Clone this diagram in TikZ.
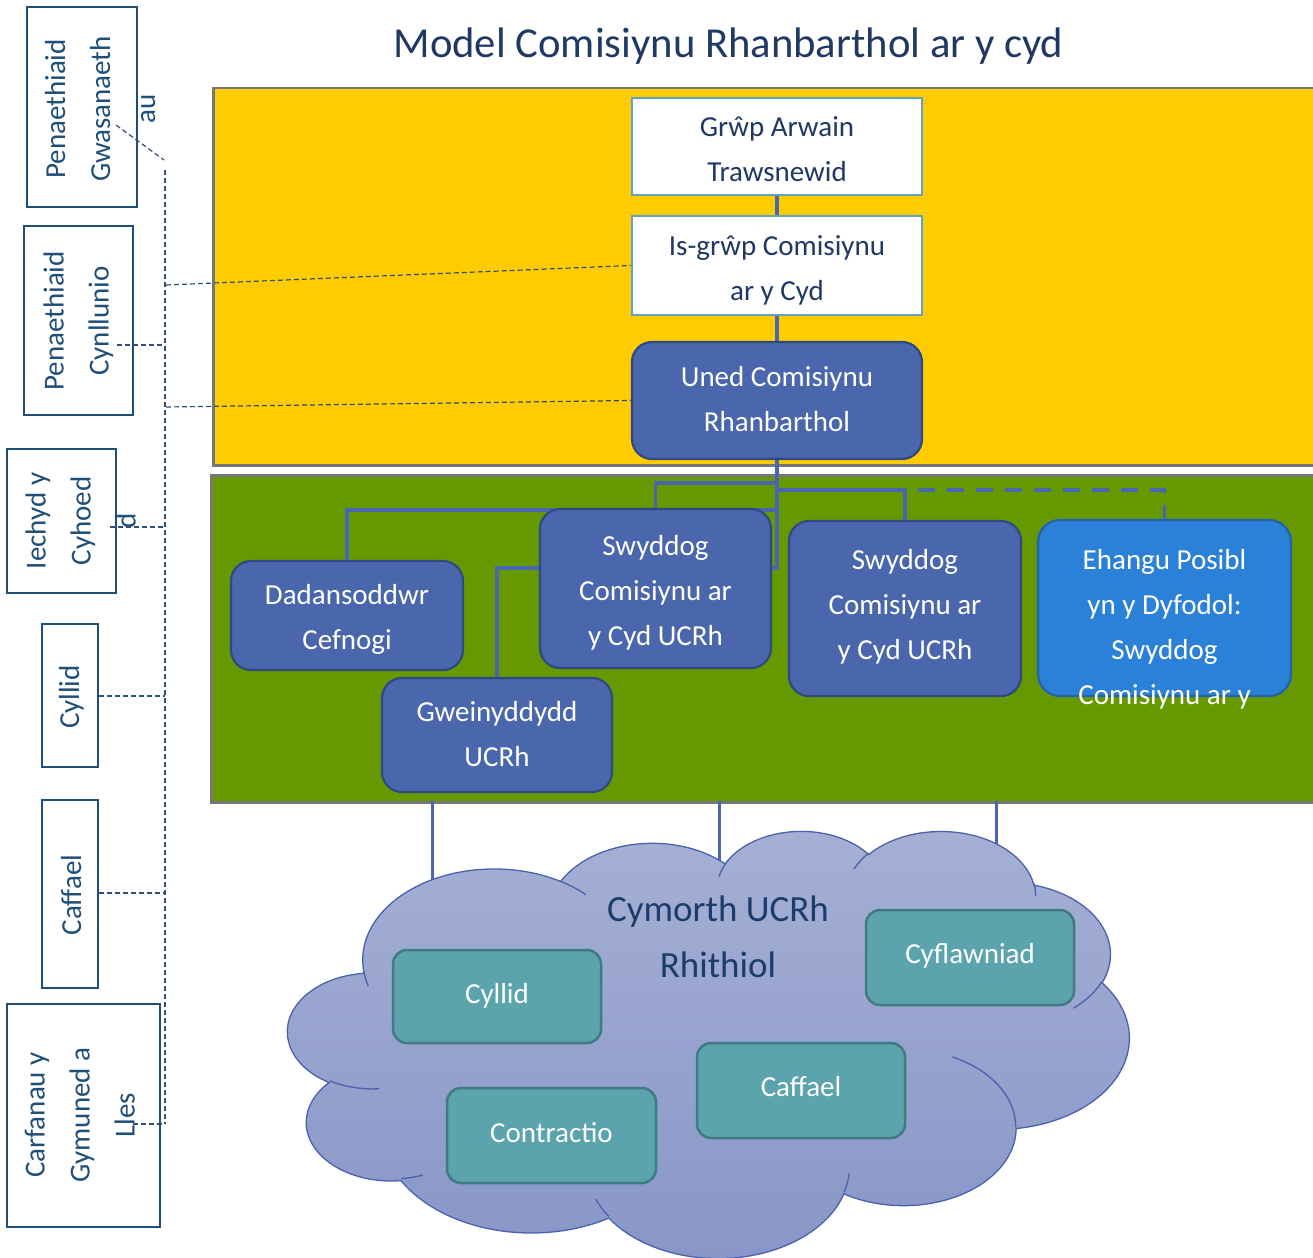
\documentclass[tikz,border=0pt]{standalone}
\usepackage{fontspec}
\setmainfont{Carlito}
\definecolor{yel}{HTML}{FFCC00}
\definecolor{grn}{HTML}{669900}
\definecolor{pgray}{HTML}{767676}
\definecolor{bfill}{HTML}{4A66AC}
\definecolor{bline}{HTML}{2F4A82}
\definecolor{efill}{HTML}{2B80D8}
\definecolor{eline}{HTML}{2463AC}
\definecolor{wline}{HTML}{62A4BE}
\definecolor{connc}{HTML}{4A66B0}
\definecolor{navy}{HTML}{1F3864}
\definecolor{ltxt}{HTML}{1F4E79}
\definecolor{tfill}{HTML}{5BA3AD}
\definecolor{tline}{HTML}{3F7B80}
\definecolor{cline}{HTML}{4A62AE}
\definecolor{ctop}{HTML}{A6B0D4}
\definecolor{cbot}{HTML}{8796C8}
\definecolor{dashc}{HTML}{2F4F78}
\definecolor{ctitle}{HTML}{1C3D6B}
\newcommand\CloudAng[5]{%
  \pgfmathsetmacro\cloudtmpS{atan2((#2)*sin(#4),(#3)*cos(#4))}%
  \pgfmathsetmacro\cloudtmpE{atan2((#2)*sin((#4)+(#5)),(#3)*cos((#4)+(#5)))}%
  \pgfmathsetmacro\cloudtmpD{mod(\cloudtmpE-\cloudtmpS+720,360)}%
  \expandafter\xdef\csname cl#1s\endcsname{\cloudtmpS}%
  \expandafter\xdef\csname cl#1d\endcsname{\cloudtmpD}%
}
\tikzset{
  panel/.style={draw=pgray, line width=2.5pt, inner sep=0pt, anchor=north west},
  wbox/.style={draw=wline, fill=white, line width=2.5pt, inner sep=0pt},
  bbox/.style={draw=bline, fill=bfill, line width=2.2pt, rounded corners=20pt, inner sep=0pt},
  ebox/.style={draw=eline, fill=efill, line width=2.2pt, rounded corners=22pt, inner sep=0pt},
  tbox/.style={draw=tline, fill=tfill, line width=2.5pt, rounded corners=14pt, inner sep=0pt},
  lbox/.style={draw=ltxt, line width=2.2pt, inner sep=0pt},
  link/.style={draw=connc, line width=3.5pt},
  dlink/.style={draw=dashc, line width=1.2pt, dash pattern=on 5pt off 3pt},
  txt/.style={font=\fontsize{29}{45}\selectfont, text width=400pt, align=flush center, anchor=base, inner sep=0pt,
    execute at begin node={\spaceskip=0pt\xspaceskip=0pt}},
  wtxt/.style={txt, text=white},
  ntxt/.style={txt, text=navy},
  ltx/.style={txt, text=ltxt, rotate=90},
  cloudedge/.style={draw=cline, line width=1.3pt}
}
\begin{document}
\begin{tikzpicture}[x=1pt,y=-1pt]
\useasboundingbox (0,0) rectangle (1313,1257);
\CloudAng{A}{67.53}{91.90}{-190.4875}{123.7805}
\CloudAng{B}{53.33}{72.67}{-144.1024}{89.9452}
\CloudAng{C}{43.65}{59.45}{-145.8079}{99.7230}
\CloudAng{D}{48.57}{65.95}{-130.9861}{117.2417}
\CloudAng{E}{53.33}{72.73}{-78.7089}{109.0269}
\CloudAng{F}{67.75}{92.20}{-46.2673}{130.2690}
\CloudAng{G}{57.85}{78.67}{0.6250}{114.0333}
\CloudAng{H}{67.52}{92.15}{22.4516}{115.1726}
\CloudAng{I}{77.20}{105.43}{66.2426}{75.7110}
\CloudAng{J}{43.60}{59.18}{-274.9421}{146.7356}
\CloudAng{K}{43.45}{59.45}{-246.8285}{152.5189}
\CloudAng{a}{43.45}{59.45}{86.7420}{26.4295}
\CloudAng{b}{43.60}{59.18}{73.6105}{11.4475}
\CloudAng{c}{67.52}{92.15}{137.6242}{14.0811}
\CloudAng{d}{67.52}{92.15}{6.4533}{15.9984}
\CloudAng{e}{57.85}{78.67}{-70.2924}{70.9174}
\CloudAng{f}{53.33}{72.73}{30.3180}{27.7515}
\CloudAng{g}{48.57}{65.95}{-13.7443}{14.8589}
\CloudAng{h}{48.57}{65.95}{-149.1815}{18.1954}
\CloudAng{i}{43.65}{59.45}{-163.4943}{17.6864}
\CloudAng{j}{67.53}{91.90}{-66.7070}{12.3194}
\CloudAng{k}{67.53}{91.90}{157.6544}{11.8582}

% title
\node[font=\fontsize{42.7}{50}\selectfont, text=navy, anchor=base, inner sep=0pt] (title) at (728.5,58) {Model Comisiynu Rhanbarthol ar y cyd};

% panels
\node[panel, fill=yel, minimum width=1108, minimum height=377] (yellow) at (212,87) {};
\node[panel, fill=grn, minimum width=1110, minimum height=327] (green) at (210,474) {};

\coordinate (grwpC) at (777,146.5);
\coordinate (isgrwpC) at (777,265.5);
\coordinate (unedC) at (777,400.5);

\node[wbox, minimum width=290, minimum height=97] (grwp) at (grwpC) {};
\node[wbox, minimum width=290, minimum height=99] (isgrwp) at (isgrwpC) {};
\draw[link] (grwp.south) -- (isgrwp.north);
\coordinate (j1) at (777,568);
\coordinate (j2) at (777,483);
\coordinate (j3) at (777,510);
\coordinate (j4) at (777,490);
\coordinate (j5) at (905,490);
\coordinate (gwtop) at (497,678);
\coordinate (s1top) at (655.5,509);
\coordinate (dtop) at (347,561);
\coordinate (s2top) at (905,521);
\coordinate (etop) at (1164.5,520);
\draw[link] (isgrwp.south) -- (unedC);
\draw[link] (unedC) -- (j1) -| (gwtop);
\draw[link] (j2) -| (s1top);
\draw[link] (j3) -| (dtop);
\draw[link] (j4) -| (s2top);
\draw[link, dash pattern=on 17pt off 12pt, dash phase=16pt] (j5) -| (etop);

\node[bbox, minimum width=290, minimum height=117] (uned) at (unedC) {};
\node[bbox, minimum width=232, minimum height=109] (dadan) at (347,615.5) {};
\node[bbox, minimum width=231, minimum height=159] (swy1) at (655.5,588.5) {};
\node[bbox, minimum width=232, minimum height=175] (swy2) at (905,608.5) {};
\node[ebox, minimum width=253, minimum height=176] (ehangu) at (1164.5,608) {};
\node[bbox, minimum width=230, minimum height=114] (gwein) at (497,735) {};

\node[ntxt] (grwpT) at (777,137) {Grŵp Arwain\\Trawsnewid};
\node[ntxt] (isgrwpT) at (777,255) {Is-grŵp Comisiynu\\ar y Cyd};
\node[wtxt] (unedT) at (777,386) {Uned Comisiynu\\Rhanbarthol};
\node[wtxt] (dadanT) at (347,604) {Dadansoddwr\\Cefnogi};
\node[wtxt] (swy1T) at (655.5,555) {Swyddog\\Comisiynu ar\\y Cyd UCRh};
\node[wtxt] (swy2T) at (905,569) {Swyddog\\Comisiynu ar\\y Cyd UCRh};
\node[wtxt] (ehanguT) at (1164.5,569) {Ehangu Posibl\\yn y Dyfodol:\\Swyddog\\Comisiynu ar y};
\node[wtxt] (gweinT) at (497,721) {Gweinyddydd\\UCRh};

% links from green panel into cloud
\coordinate (g1) at (432,801); \coordinate (g1e) at (432,900);
\coordinate (g2) at (719,801); \coordinate (g2e) at (719,900);
\coordinate (g3) at (996,801); \coordinate (g3e) at (996,900);
\draw[connc, line width=3pt] (g1) -- (g1e) (g2) -- (g2e) (g3) -- (g3e);

% cloud
\begin{scope}[shift={(288,830)}, x=1.946759pt, y=-0.988426pt]
  \path[top color=ctop, bottom color=cbot, draw=cline, line width=1.3pt]
    (39.00,143.70)
    arc[start angle=\clAs, delta angle=\clAd, x radius=67.53, y radius=91.90]
    arc[start angle=\clBs, delta angle=\clBd, x radius=53.33, y radius=72.67]
    arc[start angle=\clCs, delta angle=\clCd, x radius=43.65, y radius=59.45]
    arc[start angle=\clDs, delta angle=\clDd, x radius=48.57, y radius=65.95]
    arc[start angle=\clEs, delta angle=\clEd, x radius=53.33, y radius=72.73]
    arc[start angle=\clFs, delta angle=\clFd, x radius=67.75, y radius=92.20]
    arc[start angle=\clGs, delta angle=\clGd, x radius=57.85, y radius=78.67]
    arc[start angle=\clHs, delta angle=\clHd, x radius=67.52, y radius=92.15]
    arc[start angle=\clIs, delta angle=\clId, x radius=77.20, y radius=105.43]
    arc[start angle=\clJs, delta angle=\clJd, x radius=43.60, y radius=59.18]
    arc[start angle=\clKs, delta angle=\clKd, x radius=43.45, y radius=59.45]
    -- cycle;
  \draw[cloudedge] (46.93,261.77) arc[start angle=\clas, delta angle=\clad, x radius=43.45, y radius=59.45];
  \draw[cloudedge] (69.28,348.99) arc[start angle=\clbs, delta angle=\clbd, x radius=43.60, y radius=59.18];
  \draw[cloudedge] (164.78,390.90) arc[start angle=\clcs, delta angle=\clcd, x radius=67.52, y radius=92.15];
  \draw[cloudedge] (288.27,347.51) arc[start angle=\clds, delta angle=\cldd, x radius=67.52, y radius=92.15];
  \draw[cloudedge] (341.29,229.54) arc[start angle=\cles, delta angle=\cled, x radius=57.85, y radius=78.67];
  \draw[cloudedge] (417.98,153.54) arc[start angle=\clfs, delta angle=\clfd, x radius=53.33, y radius=72.73];
  \draw[cloudedge] (383.24,54.26) arc[start angle=\clgs, delta angle=\clgd, x radius=48.57, y radius=65.95];
  \draw[cloudedge] (290.78,39.52) arc[start angle=\clhs, delta angle=\clhd, x radius=48.57, y radius=65.95];
  \draw[cloudedge] (221.41,47.20) arc[start angle=\clis, delta angle=\clid, x radius=43.65, y radius=59.45];
  \draw[cloudedge] (140.00,51.92) arc[start angle=\cljs, delta angle=\cljd, x radius=67.53, y radius=91.90];
  \draw[cloudedge] (41.27,157.89) arc[start angle=\clks, delta angle=\clkd, x radius=67.53, y radius=91.90];
\end{scope}

\node[txt, font=\fontsize{37}{56}\selectfont, text=ctitle] (ctitleT) at (718,921) {Cymorth UCRh\\Rhithiol};

\node[tbox, minimum width=208, minimum height=93] (cyl) at (497,996.5) {};
\node[tbox, minimum width=209, minimum height=95] (contr) at (551.5,1135.5) {};
\node[tbox, minimum width=208, minimum height=95] (caff) at (801,1090.5) {};
\node[tbox, minimum width=208, minimum height=95] (cyfl) at (970,957.5) {};
\node[wtxt] (cylT) at (497,1003) {Cyllid};
\node[wtxt] (contrT) at (551.5,1142) {Contractio};
\node[wtxt] (caffT) at (801,1096) {Caffael};
\node[wtxt] (cyflT) at (970,963) {Cyflawniad};

% left boxes
\node[lbox, minimum width=110, minimum height=200] (lb1) at (82,107) {};
\node[lbox, minimum width=109, minimum height=189] (lb2) at (78.5,320.5) {};
\node[lbox, minimum width=109, minimum height=144] (lb3) at (61.5,521) {};
\node[lbox, minimum width=56, minimum height=143] (lb4) at (70,695.5) {};
\node[lbox, minimum width=56, minimum height=188] (lb5) at (70,894) {};
\node[lbox, minimum width=153, minimum height=223] (lb6) at (83.5,1115.5) {};
\node[ltx] (lb1T) at (65,109) {Penaethiaid\\Gwasanaeth\\au};
\node[ltx] (lb2T) at (63.5,321) {Penaethiaid\\Cynllunio};
\node[ltx] (lb3T) at (45.5,521) {Iechyd y\\Cyhoed\\d};
\node[ltx] (lb4T) at (79,697) {Cyllid};
\node[ltx] (lb5T) at (81,895) {Caffael};
\node[ltx] (lb6T) at (44.5,1115) {Carfanau y\\Gymuned a\\Lles};

% dashed links
\coordinate (v1) at (165,170);
\coordinate (v2) at (165,1124);
\coordinate (d1a) at (116,125);
\coordinate (d1b) at (164,160);
\coordinate (h1) at (166,285);
\coordinate (h2) at (166,407);
\coordinate (p2) at (117,345); \coordinate (p2e) at (165,345);
\coordinate (p3) at (110,527); \coordinate (p3e) at (165,527);
\coordinate (p4) at (lb4.east |- 0,696); \coordinate (p4e) at (165,696);
\coordinate (p5) at (lb5.east |- 0,893); \coordinate (p5e) at (165,893);
\coordinate (p6) at (133,1124);
\draw[dlink] (v1) -- (v2);
\draw[dlink] (d1a) -- (d1b);
\draw[dlink] (h1) -- (isgrwp.west);
\draw[dlink] (h2) -- (uned.west);
\draw[dlink] (p2) -- (p2e);
\draw[dlink] (p3) -- (p3e);
\draw[dlink] (p4) -- (p4e);
\draw[dlink] (p5) -- (p5e);
\draw[dlink] (p6) -- (v2);
\end{tikzpicture}
\end{document}
